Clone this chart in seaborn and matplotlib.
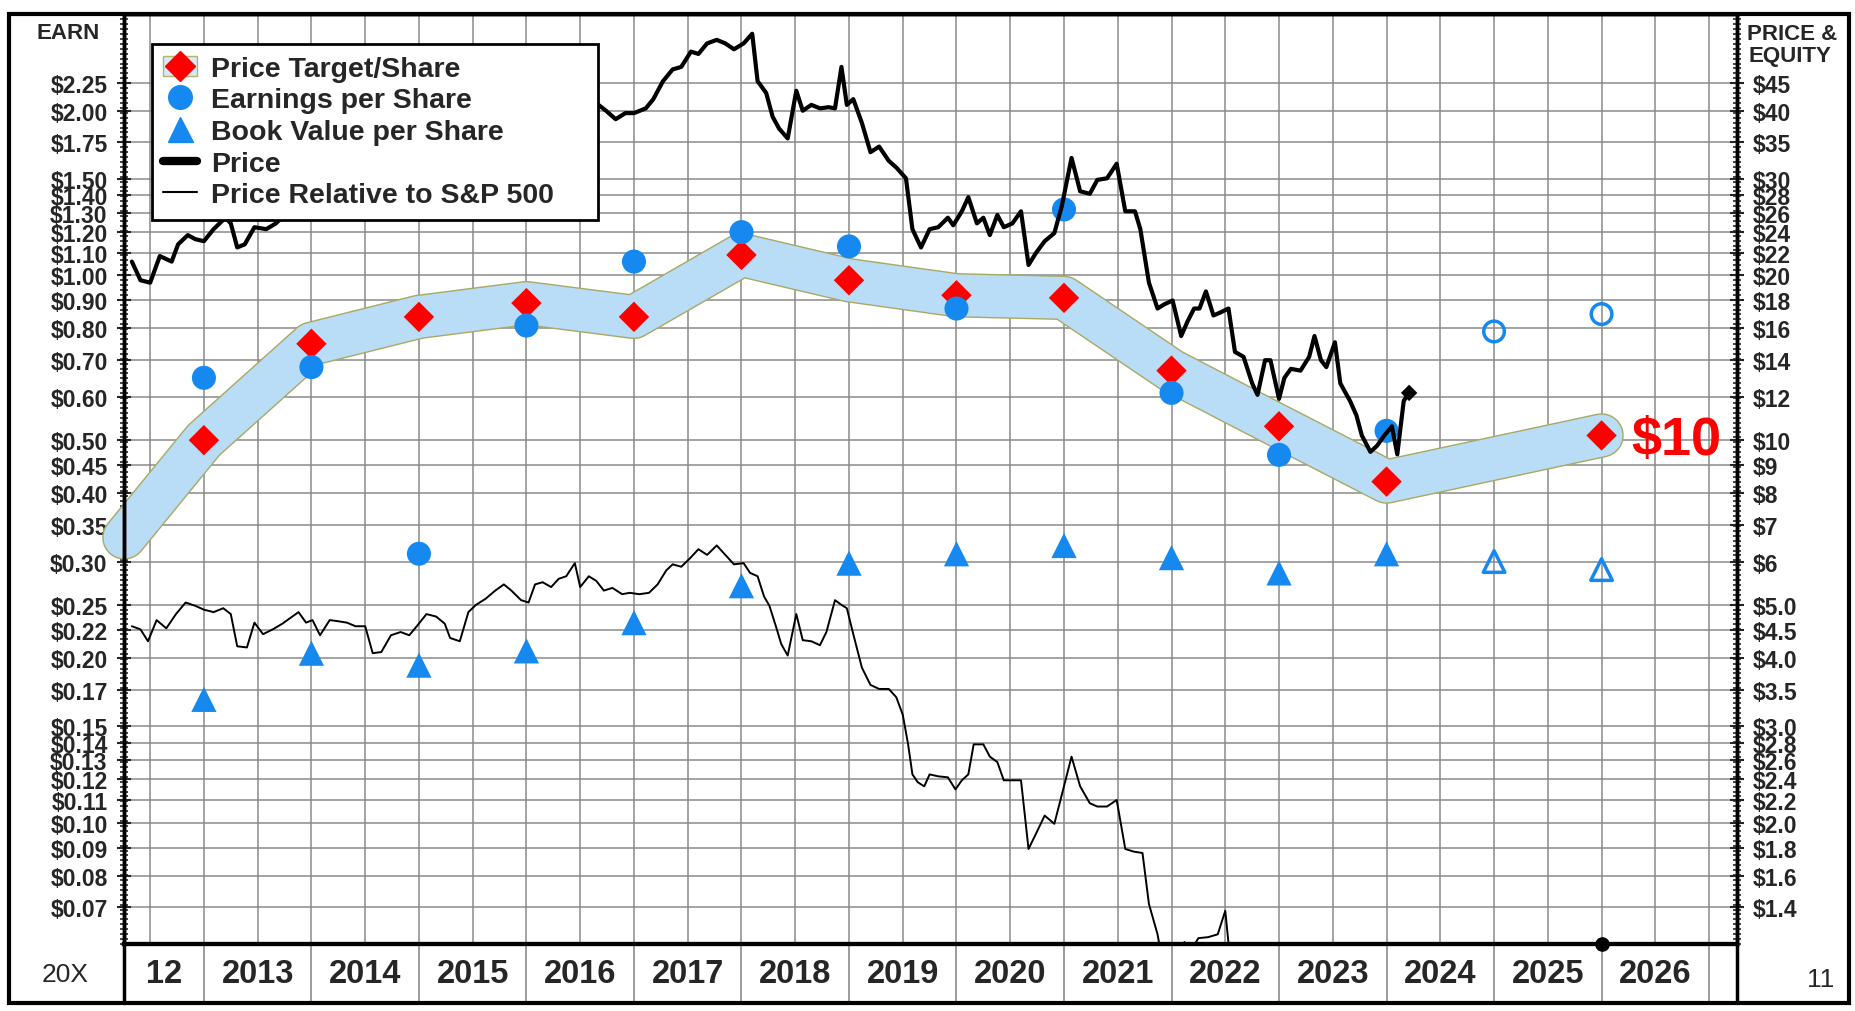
import numpy as np
import matplotlib
matplotlib.use('Agg')
import matplotlib.pyplot as plt
import matplotlib.patheffects as pe
import matplotlib.transforms as mtransforms
from matplotlib.lines import Line2D
from matplotlib.patches import Patch, Rectangle
from matplotlib.legend_handler import HandlerTuple
from matplotlib.ticker import FixedLocator, NullFormatter
import seaborn as sns

# ---- values ----
# price target per share (earnings scale), year-end points
target_years = [2013, 2014, 2015, 2016, 2017, 2018, 2019, 2020, 2021, 2022, 2023, 2024, 2026]
target = [0.50, 0.75, 0.84, 0.89, 0.84, 1.09, 0.98, 0.92, 0.91, 0.67, 0.53, 0.42, 0.51]
band_start_year = 2012.26
band_start = 0.332

# earnings per share (earnings scale)
eps_years = [2013, 2014, 2015, 2016, 2017, 2018, 2019, 2020, 2021, 2022, 2023, 2024]
eps = [0.65, 0.68, 0.31, 0.81, 1.06, 1.20, 1.13, 0.87, 1.32, 0.61, 0.47, 0.52]
eps_est_years = [2025, 2026]
eps_est = [0.79, 0.85]

# book value per share (price & equity scale)
bv_years = [2013, 2014, 2015, 2016, 2017, 2018, 2019, 2020, 2021, 2022, 2023, 2024]
book_value = [3.36, 4.08, 3.88, 4.12, 4.64, 5.42, 5.96, 6.20, 6.42, 6.10, 5.72, 6.20]
bv_est_years = [2025, 2026]
bv_est = [6.0, 5.8]

# monthly-ish price (price & equity scale)
price_x = [2012.33, 2012.41, 2012.50, 2012.59, 2012.70, 2012.76, 2012.85, 2012.92, 2013.00, 2013.09,
           2013.20, 2013.25, 2013.31, 2013.38, 2013.47, 2013.58, 2013.67, 2013.75, 2013.85, 2013.95,
           2014.05, 2014.15, 2014.30, 2014.45, 2014.60, 2014.75, 2014.90, 2015.05, 2015.20, 2015.35,
           2015.50, 2015.65, 2015.80, 2015.95, 2016.10, 2016.25, 2016.40, 2016.55, 2016.67, 2016.74,
           2016.83, 2016.92, 2017.00, 2017.11, 2017.18, 2017.27, 2017.36, 2017.44, 2017.53, 2017.60,
           2017.68, 2017.77, 2017.85, 2017.93, 2018.02, 2018.10, 2018.15, 2018.23, 2018.29, 2018.35,
           2018.43, 2018.51, 2018.57, 2018.65, 2018.73, 2018.81, 2018.87, 2018.93, 2018.98, 2019.04,
           2019.12, 2019.20, 2019.28, 2019.37, 2019.44, 2019.53, 2019.59, 2019.67, 2019.75, 2019.83,
           2019.92, 2019.97, 2020.05, 2020.11, 2020.19, 2020.25, 2020.31, 2020.38, 2020.44, 2020.52,
           2020.60, 2020.67, 2020.74, 2020.82, 2020.91, 2020.98, 2021.07, 2021.15, 2021.24, 2021.31,
           2021.40, 2021.49, 2021.57, 2021.66, 2021.71, 2021.79, 2021.87, 2021.93, 2022.01, 2022.09,
           2022.15, 2022.21, 2022.26, 2022.32, 2022.39, 2022.45, 2022.53, 2022.59, 2022.67, 2022.75,
           2022.80, 2022.87, 2022.92, 2023.00, 2023.05, 2023.11, 2023.20, 2023.28, 2023.33, 2023.39,
           2023.44, 2023.52, 2023.57, 2023.66, 2023.72, 2023.77, 2023.85, 2023.91, 2023.98, 2024.05,
           2024.10, 2024.16, 2024.21]
price = [21.2, 19.6, 19.4, 21.7, 21.2, 22.8, 23.7, 23.3, 23.1, 24.3,
         25.5, 24.9, 22.5, 22.8, 24.5, 24.3, 24.9, 25.8, 27.5, 28.5,
         27.0, 29.0, 30.5, 29.5, 31.0, 32.5, 31.5, 33.0, 34.5, 33.5,
         35.5, 36.5, 35.0, 37.0, 38.5, 37.5, 39.5, 40.5, 41.0, 40.0,
         38.6, 39.6, 39.6, 40.4, 42.0, 45.3, 47.6, 48.1, 51.3, 50.8,
         53.1, 53.9, 53.1, 51.8, 53.1, 55.3, 45.3, 43.1, 39.0, 37.1,
         35.6, 43.5, 40.0, 41.0, 40.4, 40.6, 40.4, 48.1, 41.0, 42.0,
         38.0, 33.6, 34.4, 32.4, 31.5, 30.1, 24.3, 22.5, 24.3, 24.5,
         25.5, 24.7, 26.2, 27.8, 24.9, 25.5, 23.7, 25.8, 24.5, 24.9,
         26.2, 20.9, 22.0, 23.1, 23.9, 26.8, 32.8, 28.5, 28.2, 29.9,
         30.1, 32.0, 26.2, 26.2, 24.3, 19.4, 17.4, 17.7, 18.0, 15.5,
         16.5, 17.4, 17.4, 18.7, 16.9, 17.1, 17.4, 14.5, 14.2, 12.7,
         12.1, 14.0, 14.0, 11.9, 13.0, 13.5, 13.4, 14.2, 15.5, 14.0,
         13.6, 15.1, 12.7, 11.8, 11.1, 10.2, 9.52, 9.76, 10.2, 10.6,
         9.42, 11.8, 12.2]

# price relative to S&P 500 (price & equity scale)
rel_x = [2012.33, 2012.41, 2012.48, 2012.56, 2012.65, 2012.74, 2012.83, 2012.92, 2013.00, 2013.09,
         2013.18, 2013.25, 2013.31, 2013.40, 2013.47, 2013.55, 2013.64, 2013.73, 2013.81, 2013.88,
         2013.95, 2014.01, 2014.08, 2014.17, 2014.24, 2014.33, 2014.41, 2014.50, 2014.57, 2014.65,
         2014.74, 2014.83, 2014.91, 2014.98, 2015.07, 2015.16, 2015.24, 2015.29, 2015.38, 2015.46,
         2015.53, 2015.62, 2015.71, 2015.79, 2015.86, 2015.95, 2016.02, 2016.08, 2016.15, 2016.23,
         2016.30, 2016.37, 2016.45, 2016.50, 2016.58, 2016.65, 2016.72, 2016.80, 2016.89, 2016.96,
         2017.05, 2017.14, 2017.22, 2017.30, 2017.36, 2017.44, 2017.52, 2017.60, 2017.68, 2017.77,
         2017.85, 2017.93, 2018.02, 2018.08, 2018.15, 2018.21, 2018.26, 2018.32, 2018.37, 2018.43,
         2018.51, 2018.57, 2018.65, 2018.73, 2018.79, 2018.87, 2018.93, 2018.98, 2019.04, 2019.12,
         2019.20, 2019.28, 2019.37, 2019.44, 2019.50, 2019.55, 2019.59, 2019.64, 2019.70, 2019.75,
         2019.83, 2019.92, 2019.99, 2020.05, 2020.11, 2020.16, 2020.25, 2020.31, 2020.38, 2020.44,
         2020.52, 2020.60, 2020.67, 2020.74, 2020.82, 2020.91, 2020.98, 2021.07, 2021.15, 2021.24,
         2021.31, 2021.40, 2021.49, 2021.57, 2021.65, 2021.73, 2021.79, 2021.87, 2021.92, 2022.06,
         2022.12, 2022.16, 2022.25, 2022.34, 2022.43, 2022.50, 2022.55]
rel = [4.57, 4.51, 4.29, 4.69, 4.53, 4.81, 5.05, 4.98, 4.90, 4.85,
       4.93, 4.81, 4.20, 4.18, 4.64, 4.42, 4.51, 4.62, 4.74, 4.85,
       4.64, 4.69, 4.40, 4.69, 4.67, 4.64, 4.57, 4.57, 4.08, 4.10,
       4.40, 4.46, 4.40, 4.57, 4.81, 4.76, 4.62, 4.35, 4.29, 4.85,
       5.00, 5.13, 5.31, 5.45, 5.31, 5.10, 5.05, 5.45, 5.50, 5.39,
       5.58, 5.64, 5.96, 5.39, 5.64, 5.53, 5.31, 5.37, 5.23, 5.26,
       5.23, 5.26, 5.45, 5.78, 5.93, 5.87, 6.08, 6.32, 6.17, 6.42,
       6.17, 5.93, 5.96, 5.72, 5.64, 5.18, 4.98, 4.57, 4.24, 4.04,
       4.81, 4.31, 4.29, 4.22, 4.46, 5.10, 5.00, 4.93, 4.42, 3.84,
       3.57, 3.51, 3.51, 3.39, 3.15, 2.78, 2.45, 2.37, 2.33, 2.45,
       2.43, 2.42, 2.30, 2.39, 2.45, 2.78, 2.78, 2.64, 2.58, 2.39,
       2.39, 2.39, 1.79, 1.91, 2.06, 1.99, 2.25, 2.64, 2.33, 2.17,
       2.14, 2.14, 2.20, 1.79, 1.77, 1.76, 1.42, 1.25, 1.10, 1.12,
       1.21, 1.15, 1.23, 1.235, 1.25, 1.38, 1.10]

earn_ticks = [2.25, 2.0, 1.75, 1.5, 1.4, 1.3, 1.2, 1.1, 1.0, 0.9, 0.8, 0.7, 0.6, 0.5, 0.45, 0.4,
              0.35, 0.3, 0.25, 0.225, 0.2, 0.175, 0.15, 0.14, 0.13, 0.12, 0.11, 0.10, 0.09, 0.08, 0.07]
earn_labels = ['$2.25', '$2.00', '$1.75', '$1.50', '$1.40', '$1.30', '$1.20', '$1.10', '$1.00',
               '$0.90', '$0.80', '$0.70', '$0.60', '$0.50', '$0.45', '$0.40', '$0.35', '$0.30',
               '$0.25', '$0.22', '$0.20', '$0.17', '$0.15', '$0.14', '$0.13', '$0.12', '$0.11',
               '$0.10', '$0.09', '$0.08', '$0.07']
price_labels = ['$45', '$40', '$35', '$30', '$28', '$26', '$24', '$22', '$20', '$18', '$16', '$14',
                '$12', '$10', '$9', '$8', '$7', '$6', '$5.0', '$4.5', '$4.0', '$3.5', '$3.0', '$2.8',
                '$2.6', '$2.4', '$2.2', '$2.0', '$1.8', '$1.6', '$1.4']
year_labels = ['12', '2013', '2014', '2015', '2016', '2017', '2018', '2019', '2020', '2021',
               '2022', '2023', '2024', '2025', '2026']
year_centers = [2012.63] + [y + 0.5 for y in range(2013, 2027)]

BLUE = '#1589f0'
BAND = '#b9dcf7'
GRID = '#8a8a8a'

sns.set_style('white')
plt.rcParams['font.family'] = ['Liberation Sans', 'DejaVu Sans']

fig = plt.figure(figsize=(18.56, 10.12), dpi=100)
ax = fig.add_axes([0.0670, 0.0662, 0.8689, 0.9186])
ax2 = ax.twinx()

# price target band + diamonds
sns.lineplot(x=[band_start_year] + target_years, y=[band_start] + target, ax=ax, color=BAND,
             lw=30, solid_capstyle='round', solid_joinstyle='round', sort=False, estimator=None,
             clip_on=False, zorder=2,
             path_effects=[pe.Stroke(linewidth=32, foreground='#a9a962'), pe.Normal()])
sns.scatterplot(x=target_years, y=target, ax=ax, marker='D', s=240, color='red',
                edgecolor='none', zorder=5)
sns.scatterplot(x=eps_years, y=eps, ax=ax, marker='o', s=300, color=BLUE,
                edgecolor='none', zorder=5)
sns.scatterplot(x=eps_est_years, y=eps_est, ax=ax, marker='o', s=220, facecolor='none',
                edgecolor=BLUE, linewidth=2.5, zorder=5)

# price-side series
sns.lineplot(x=rel_x, y=rel, ax=ax2, color='black', lw=1.4, sort=False, estimator=None)
sns.lineplot(x=price_x, y=price, ax=ax2, color='black', lw=3, sort=False, estimator=None)
sns.scatterplot(x=[price_x[-1]], y=[price[-1]], ax=ax2, marker='D', s=70, color='black',
                edgecolor='none', zorder=6)
sns.scatterplot(x=bv_years, y=book_value, ax=ax2, marker='^', s=330, color=BLUE,
                edgecolor='none', zorder=5)
sns.scatterplot(x=bv_est_years, y=bv_est, ax=ax2, marker='^', s=240, facecolor='none',
                edgecolor=BLUE, linewidth=2.5, zorder=5)
ax2.scatter([2026.0], [1.2], s=90, color='black', clip_on=False, zorder=8)
ax2.text(2026.28, 10.0, '$10', color='red', fontsize=39, fontweight='bold',
         ha='left', va='center')

# scales
for a in (ax, ax2):
    a.set_yscale('log')
ax.set_xlim(2012.26, 2027.26)
ax.set_ylim(0.06, 3.0)
ax2.set_ylim(1.2, 60)

ax.set_yticks(earn_ticks, labels=earn_labels)
ax2.set_yticks([t * 20 for t in earn_ticks], labels=price_labels)
ruler = np.geomspace(0.06, 3.0, 190)
ax.yaxis.set_minor_locator(FixedLocator(ruler))
ax2.yaxis.set_minor_locator(FixedLocator(ruler * 20))
ax.yaxis.set_minor_formatter(NullFormatter())
ax2.yaxis.set_minor_formatter(NullFormatter())
ax.set_xticks([2012.5 + 0.5 * i for i in range(30)])
ax.tick_params(axis='x', length=0, labelbottom=False)
ax.tick_params(axis='y', which='major', direction='inout', length=10, width=1.5, pad=7,
               labelsize=16.5, left=True, right=False)
ax.tick_params(axis='y', which='minor', direction='inout', length=6, width=1.2,
               left=True, right=False)
ax2.tick_params(axis='y', which='major', direction='inout', length=10, width=1.5, pad=6,
                labelsize=16.5, left=False, right=True)
ax2.tick_params(axis='y', which='minor', direction='inout', length=6, width=1.2,
                left=False, right=True)
for lab in ax.get_yticklabels() + ax2.get_yticklabels():
    lab.set_fontweight('bold')
ax.set_xlabel('')
ax.set_ylabel('')
ax2.set_ylabel('')

ax.grid(True, which='major', axis='both', color=GRID, lw=1.1)
ax.set_axisbelow(True)
ax2.grid(False)
for a in (ax, ax2):
    for s in a.spines.values():
        s.set_linewidth(2.5)
        s.set_color('black')
    a.spines['bottom'].set_linewidth(3)

# bottom year strip
strip = 0.0635
trans = mtransforms.blended_transform_factory(ax.transData, ax.transAxes)
ax.vlines(list(range(2013, 2028)), -strip, 0, transform=trans, color=GRID, lw=1.2, clip_on=False)
for xa in (0, 1):
    ax.plot([xa, xa], [-strip, 0], transform=ax.transAxes, color='black', lw=2.5, clip_on=False)
for xc, lab in zip(year_centers, year_labels):
    ax.text(xc, -strip / 2, lab, transform=trans, ha='center', va='center',
            fontsize=23.5, fontweight='bold')

fig.patches.append(Rectangle((9.5 / 1856, 0.0079), (1849 - 9.5) / 1856, 0.9769,
                             transform=fig.transFigure, fill=False, lw=3, ec='black'))
fig.text(68 / 1856, 1 - 33.5 / 1012, 'EARN', ha='center', va='center', fontsize=16, fontweight='bold')
fig.text(1747 / 1856, 1 - 34.5 / 1012, 'PRICE &', ha='left', va='center', fontsize=16, fontweight='bold')
fig.text(1749 / 1856, 1 - 56.5 / 1012, 'EQUITY', ha='left', va='center', fontsize=16, fontweight='bold')
fig.text(65 / 1856, 1 - 975 / 1012, '20X', ha='center', va='center', fontsize=19)
fig.text(1821 / 1856, 1 - 980 / 1012, '11', ha='center', va='center', fontsize=19)

# legend
handles = [
    (Patch(facecolor='#d6eafb', edgecolor='#b5b56a', lw=1),
     Line2D([], [], marker='D', color='red', ls='none', ms=15)),
    Line2D([], [], marker='o', color=BLUE, ls='none', ms=17),
    Line2D([], [], marker='^', color=BLUE, ls='none', ms=18),
    Line2D([], [], color='black', lw=6),
    Line2D([], [], color='black', lw=1.5),
]
labels = ['Price Target/Share', 'Earnings per Share', 'Book Value per Share', 'Price',
          'Price Relative to S&P 500']
leg = ax2.legend(handles, labels, loc='upper left', mode='expand',
                 bbox_to_anchor=(0.0169, 0.768, 0.2766, 0.2),
                 borderaxespad=0, frameon=True, fancybox=False, edgecolor='black', framealpha=1,
                 prop={'weight': 'bold', 'size': 20.5}, handlelength=1.2, handletextpad=0.5,
                 labelspacing=0.2, borderpad=0.4, handler_map={tuple: HandlerTuple(ndivide=1)})
leg.get_frame().set_linewidth(2)
leg.set_zorder(20)

plt.savefig('out.png', dpi=100)
